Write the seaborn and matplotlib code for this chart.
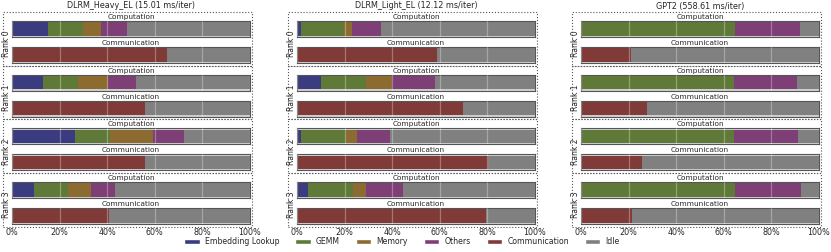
import numpy as np
import pandas as pd
import matplotlib
matplotlib.use("Agg")
import matplotlib.pyplot as plt
from matplotlib.patches import Rectangle, Patch
import seaborn as sns

# workloads and per-rank breakdown (% of iteration time)
workloads = ["DLRM_Heavy_EL (15.01 ms/iter)", "DLRM_Light_EL (12.12 ms/iter)", "GPT2 (558.61 ms/iter)"]
ranks = ["Rank 0", "Rank 1", "Rank 2", "Rank 3"]

emb_lookup = [[15.2, 12.9, 26.3, 9.3], [1.8, 10.1, 1.8, 4.6], [0.0, 0.0, 0.0, 0.0]]
gemm = [[14.7, 14.9, 15.0, 14.3], [18.1, 18.8, 18.7, 18.8], [64.7, 64.1, 64.2, 64.8]]
memory = [[7.7, 12.4, 18.1, 9.8], [3.2, 10.9, 4.6, 5.4], [0.0, 0.0, 0.0, 0.0]]
others = [[10.7, 11.8, 12.9, 9.9], [12.0, 18.3, 13.9, 15.8], [27.4, 26.8, 27.1, 27.5]]
communication = [[65.3, 55.9, 55.8, 40.6], [58.8, 69.8, 80.4, 79.5], [21.2, 27.6, 25.8, 21.3]]

categories = ["Embedding Lookup", "GEMM", "Memory", "Others", "Communication", "Idle"]
palette = ["#3b3b80", "#5f7a38", "#8b6b2f", "#7d3f75", "#803a38", "#808080"]

sns.set_style("darkgrid")
plt.rcParams["font.family"] = ["DejaVu Sans"]

W, H = 831, 252
fig = plt.figure(figsize=(W / 100, H / 100), dpi=100)

col_left = [12, 297, 581]
ax_w = 238
ax_h = 16
rank_step = 53.7


def px_axes(x, y, w, h):
    return fig.add_axes([x / W, 1 - (y + h) / H, w / W, h / H])


def draw_stack(ax, values, colors):
    # overlay cumulative bars, longest first
    cum = np.cumsum(values)
    for val, c in reversed(list(zip(cum, colors))):
        df = pd.DataFrame({"pct": [val], "row": ["r"]})
        sns.barplot(data=df, x="pct", y="row", orient="h", color=c,
                    width=0.84, saturation=1, linewidth=0, ax=ax)
    ax.set_xlim(0, 100)
    ax.set_ylim(0.5, -0.5)
    ax.set_xlabel("")
    ax.set_ylabel("")
    ax.set_yticks([])
    ax.set_xticks(np.arange(0, 101, 20))
    ax.set_facecolor("#cfcfcf")
    ax.set_axisbelow(False)
    ax.grid(axis="x", color="white", alpha=0.3, linewidth=0.9)
    ax.grid(axis="y", visible=False)
    for s in ax.spines.values():
        s.set_visible(True)
        s.set_color("#555555")
        s.set_linewidth(0.8)


for c, name in enumerate(workloads):
    x0 = col_left[c]
    fig.text((x0 + ax_w / 2) / W, 1 - 6 / H, name, ha="center", va="center", fontsize=5.8)
    for r, rank in enumerate(ranks):
        top = 21 + rank_step * r
        comp_vals = [emb_lookup[c][r], gemm[c][r], memory[c][r], others[c][r]]
        comp_vals.append(100 - sum(comp_vals))
        ax1 = px_axes(x0, top, ax_w, ax_h)
        draw_stack(ax1, comp_vals, palette[:4] + [palette[5]])
        ax1.set_title("Computation", fontsize=5.3, pad=1.5)
        ax1.tick_params(labelbottom=False, length=0)

        comm_vals = [communication[c][r], 100 - communication[c][r]]
        ax2 = px_axes(x0, top + 26, ax_w, ax_h)
        draw_stack(ax2, comm_vals, [palette[4], palette[5]])
        ax2.set_title("Communication", fontsize=5.3, pad=1.5)
        if r == len(ranks) - 1:
            ax2.set_xticklabels([f"{t}%" for t in range(0, 101, 20)])
            ax2.tick_params(labelsize=5.8, length=2, pad=1)
        else:
            ax2.tick_params(labelbottom=False, length=0)

        # dotted rank box
        by = top - 9
        fig.patches.append(Rectangle(((x0 - 9) / W, 1 - (by + rank_step) / H),
                                     (ax_w + 11) / W, rank_step / H,
                                     transform=fig.transFigure, fill=False,
                                     edgecolor="#555555", linestyle=":", linewidth=0.8))
        fig.text((x0 - 5) / W, 1 - (top + 23) / H, rank, rotation=90,
                 ha="center", va="center", fontsize=5.5)

handles = [Patch(facecolor=col, label=lab) for lab, col in zip(categories, palette)]
fig.legend(handles=handles, loc="center", bbox_to_anchor=(402 / W, 1 - 242 / H),
           ncol=6, frameon=False, fontsize=5.6, handlelength=2.0, handleheight=0.6,
           handletextpad=0.7, columnspacing=2.0)

fig.savefig("out.png", dpi=100)
